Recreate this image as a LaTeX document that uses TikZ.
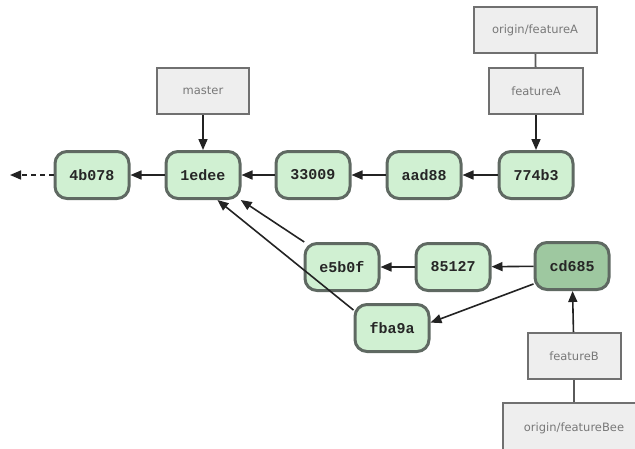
\documentclass[tikz,border=0pt]{standalone}
\usepackage{fontspec}
\setmainfont{DejaVu Sans}
\newfontfamily\commitfont{Liberation Mono}
\usetikzlibrary{arrows.meta}
\definecolor{cfill}{RGB}{208,240,210}
\definecolor{cdark}{RGB}{158,200,160}
\definecolor{cborder}{RGB}{95,105,98}
\definecolor{lfill}{RGB}{238,238,238}
\definecolor{lborder}{RGB}{112,112,112}
\definecolor{ltext}{RGB}{120,120,120}
\definecolor{arr}{RGB}{35,35,35}
\tikzset{
  commit/.style={draw=cborder, fill=cfill, line width=3pt, rounded corners=12pt,
    minimum width=74pt, minimum height=47pt, inner sep=0pt,
    font=\commitfont\bfseries\fontsize{15}{17}\selectfont, text=black!85},
  refbox/.style={draw=lborder, fill=lfill, line width=2pt,
    minimum height=46pt, inner sep=0pt, font=\fontsize{11.5}{13}\selectfont, text=ltext},
  link/.style={draw=arr, line width=1.6pt, -{Triangle[length=11pt,width=9pt]}},
  plain/.style={draw=lborder!80!black, line width=1.8pt}
}
\begin{document}
\begin{tikzpicture}[x=1pt,y=-1pt]
\useasboundingbox (0,0) rectangle (635,448);
\clip (0,0) rectangle (635,448);
% commits
\node[commit] (c4b) at (92,175) {4b078};
\node[commit] (c1e) at (203,175) {1edee};
\node[commit] (c33) at (313,175) {33009};
\node[commit] (caa) at (424,175) {aad88};
\node[commit] (c77) at (536,175) {774b3};
\node[commit] (ce5) at (342,267) {e5b0f};
\node[commit] (c85) at (453,267) {85127};
\node[commit, fill=cdark] (ccd) at (572,266) {cd685};
\node[commit] (cfb) at (392,328) {fba9a};
% refs
\node[refbox, minimum width=92pt] (master) at (203,91) {master};
\node[refbox, minimum width=123pt] (ofa) at (535,30) {origin/featureA};
\node[refbox, minimum width=94pt] (fa) at (536,91) {featureA};
\node[refbox, minimum width=93pt] (fb) at (574,356) {featureB};
\node[refbox, minimum width=142pt, minimum height=50pt] (ofb) at (574,428) {origin/featureBee};
\coordinate (tail) at (10,175);
% connectors
\draw[link, dash pattern=on 5pt off 4pt] (c4b) -- (tail);
\draw[link] (c1e) -- (c4b);
\draw[link] (c33) -- (c1e);
\draw[link] (caa) -- (c33);
\draw[link] (c77) -- (caa);
\draw[link] (ce5) -- (c1e);
\draw[link] (cfb.155) -- (c1e.300);
\draw[link] (c85) -- (ce5);
\draw[link] (ccd) -- (c85);
\draw[link] (ccd.205) -- (cfb.8);
\draw[link] (master) -- (c1e);
\draw[link] (fa) -- (c77);
\draw[link] (fb) -- (ccd);
\draw[plain] (ofa) -- (fa);
\draw[plain] (ofb) -- (fb);
\end{tikzpicture}
\end{document}
